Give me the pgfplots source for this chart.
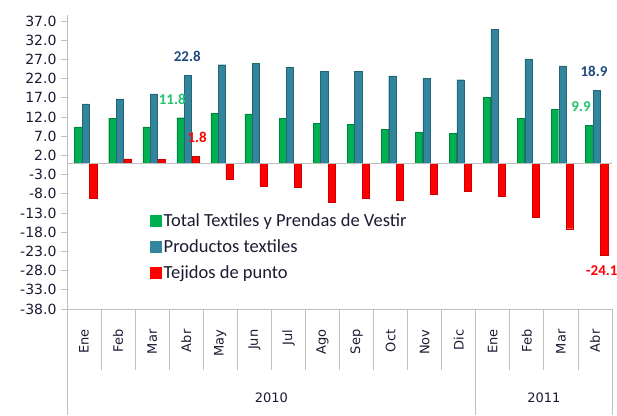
\documentclass[border=0pt]{standalone}
\usepackage{fontspec}
\setmainfont{Carlito}
\newfontfamily\tahoma{DejaVu Sans}
\usepackage{pgfplots}
\pgfplotsset{compat=1.18}
\definecolor{cgreen}{HTML}{00B050}
\definecolor{cblue}{HTML}{31859C}
\definecolor{cred}{HTML}{FF0000}
\definecolor{lblue}{HTML}{1F497D}
\definecolor{lgreen}{HTML}{1FC56A}
\definecolor{gridg}{HTML}{BFBFBF}
\definecolor{txt}{HTML}{1A1A33}
\begin{document}
\begin{tikzpicture}
\useasboundingbox (-67pt,-106pt) rectangle (550pt,309pt);
\begin{axis}[
  scale only axis, width=545pt, height=293.8pt,
  xmin=-0.5, xmax=15.5, ymin=-38, ymax=38.5,
  axis y line*=left, axis x line*=bottom,
  axis line style={gridg, line width=0.8pt},
  tick align=outside,
  xtick={0,...,15},
  xticklabels={Ene,Feb,Mar,Abr,May,Jun,Jul,Ago,Sep,Oct,Nov,Dic,Ene,Feb,Mar,Abr},
  x tick style={draw=none},
  y tick style={gridg, line width=0.8pt},
  major tick length=6pt,
  ytick={-38,-33,...,37},
  yticklabel={\pgfmathprintnumber[fixed,fixed zerofill,precision=1,assume math mode=true]{\tick}},
  y tick label style={font=\tahoma\fontsize{14}{16}\selectfont, text=txt, xshift=-1pt},
  x tick label style={rotate=90, anchor=east, font=\tahoma\fontsize{13}{16}\selectfont, text=txt, xshift=-11pt},
  legend style={at={(0.147,0.34)}, anchor=north west, draw=none, fill=none,
    font=\fontsize{18.5}{21}\selectfont, text=txt, row sep=8pt},
  legend cell align=left,
  clip=false,
]
\addplot[ybar, bar width=0.21, bar shift=-0.17, fill=cgreen, draw=cgreen!75!black,
  legend image code/.code={\fill[cgreen] (0pt,-5.5pt) rectangle (11pt,5.5pt);}]
  coordinates {(0,9.4) (1,11.7) (2,9.4) (3,11.8) (4,13.0) (5,12.8) (6,11.7) (7,10.3)
  (8,10.0) (9,8.7) (10,8.1) (11,7.8) (12,17.2) (13,11.7) (14,13.9) (15,9.9)};
\addlegendentry{Total Textiles y Prendas de Vestir}
\addplot[ybar, bar width=0.21, bar shift=0.05, fill=cblue, draw=cblue!75!black,
  legend image code/.code={\fill[cblue] (0pt,-5.5pt) rectangle (11pt,5.5pt);}]
  coordinates {(0,15.4) (1,16.7) (2,18.0) (3,22.8) (4,25.6) (5,25.9) (6,24.9) (7,23.9)
  (8,23.9) (9,22.7) (10,22.1) (11,21.7) (12,34.9) (13,27.1) (14,25.3) (15,18.9)};
\addlegendentry{Productos textiles}
\addplot[ybar, bar width=0.21, bar shift=0.27, fill=cred, draw=cred!80!black,
  legend image code/.code={\fill[cred] (0pt,-5.5pt) rectangle (11pt,5.5pt);}]
  coordinates {(0,-9.2) (1,1.1) (2,0.9) (3,1.8) (4,-4.2) (5,-6.0) (6,-6.2) (7,-10.3)
  (8,-9.2) (9,-9.7) (10,-8.1) (11,-7.3) (12,-8.6) (13,-14.2) (14,-17.1) (15,-24.1)};
\addlegendentry{Tejidos de punto}
\draw[gridg, line width=0.8pt] (axis cs:-0.5,0) -- (axis cs:15.5,0);
\node[font=\bfseries\fontsize{15}{18}\selectfont, text=lblue] at (axis cs:3.03,27.9) {22.8};
\node[font=\bfseries\fontsize{15}{18}\selectfont, text=lgreen] at (axis cs:2.59,16.7) {11.8};
\node[font=\bfseries\fontsize{15}{18}\selectfont, text=cred] at (axis cs:3.32,6.8) {1.8};
\node[font=\bfseries\fontsize{15}{18}\selectfont, text=lblue] at (axis cs:14.97,24.0) {18.9};
\node[font=\bfseries\fontsize{15}{18}\selectfont, text=lgreen] at (axis cs:14.59,14.7) {9.9};
\node[font=\bfseries\fontsize{15}{18}\selectfont, text=cred] at (axis cs:15.2,-28.1) {-24.1};
\end{axis}
\foreach \k in {1,...,11,13,14,15} {
  \draw[gridg, line width=0.8pt] ({\k*34.0625pt},0pt) -- ++(0pt,-61pt);
}
\foreach \k in {0,12,16} {
  \draw[gridg, line width=0.8pt] ({\k*34.0625pt},0pt) -- ++(0pt,-106pt);
}
\node[font=\tahoma\fontsize{13}{16}\selectfont, text=txt] at (204.4pt,-89pt) {2010};
\node[font=\tahoma\fontsize{13}{16}\selectfont, text=txt] at (476.9pt,-89pt) {2011};
\end{tikzpicture}
\end{document}
